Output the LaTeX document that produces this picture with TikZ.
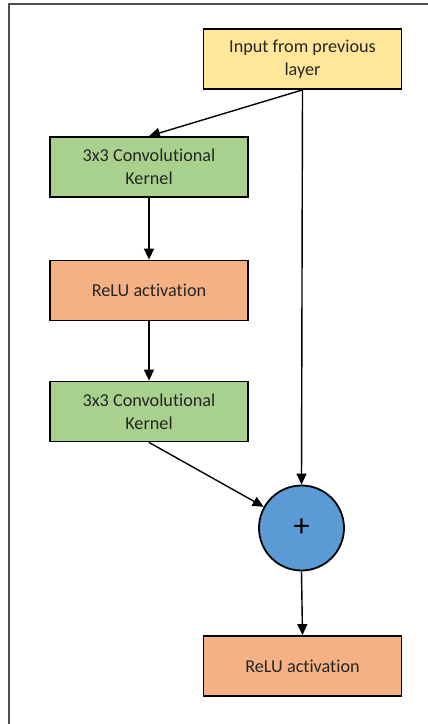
\documentclass[tikz,border=0pt]{standalone}
\usepackage{fontspec}
\setmainfont[Ligatures=NoCommon]{Carlito}
\usetikzlibrary{arrows.meta}

\definecolor{inyellow}{HTML}{FFE699}
\definecolor{convgreen}{HTML}{A9D18E}
\definecolor{reluorange}{HTML}{F4B183}
\definecolor{sumblue}{HTML}{5B9BD5}
\definecolor{framegray}{HTML}{505050}

\tikzset{
  block/.style={draw=black, line width=1.8pt, minimum width=198pt, minimum height=60pt,
    align=center, inner sep=0pt, font=\fontsize{18.2}{23}\selectfont, text=black!85},
  inbox/.style={block, fill=inyellow},
  convbox/.style={block, fill=convgreen},
  relubox/.style={block, fill=reluorange},
  sumnode/.style={circle, draw=black, line width=1.8pt, fill=sumblue, minimum size=85pt,
    inner sep=0pt, font=\fontsize{32}{34}\selectfont},
  flow/.style={line width=1.4pt, -{Triangle[length=11pt,width=10pt]}}
}

\begin{document}
\begin{tikzpicture}[x=1pt, y=-1pt]
  \useasboundingbox (0,0) rectangle (428,724);
  \fill[white] (0,0) rectangle (428,724);

  % page frame along the top and left edges
  \draw[framegray, line width=1.3pt] (9,724) -- (9,4) -- (428,4);

  % blocks
  \node[inbox]   (in)    at (302.5,59)  {Input from previous\\layer};
  \node[convbox] (conv1) at (149,167)   {3x3 Convolutional\\Kernel};
  \node[relubox] (relu1) at (149,290.5) {ReLU activation};
  \node[convbox] (conv2) at (149,411.5) {3x3 Convolutional\\Kernel};
  \node[sumnode] (plus)  at (301.5,528) {+};
  \node[relubox] (relu2) at (302.5,666) {ReLU activation};

  % connections
  \draw[flow] (in.south) -- (conv1.north);
  \draw[flow] (in.south) -- (plus.north);
  \draw[flow] (conv1.south) -- (relu1.north);
  \draw[flow] (relu1.south) -- (conv2.north);
  \draw[flow] (conv2.south) -- (plus);
  \draw[flow] (plus.south) -- (relu2.north);
\end{tikzpicture}
\end{document}
